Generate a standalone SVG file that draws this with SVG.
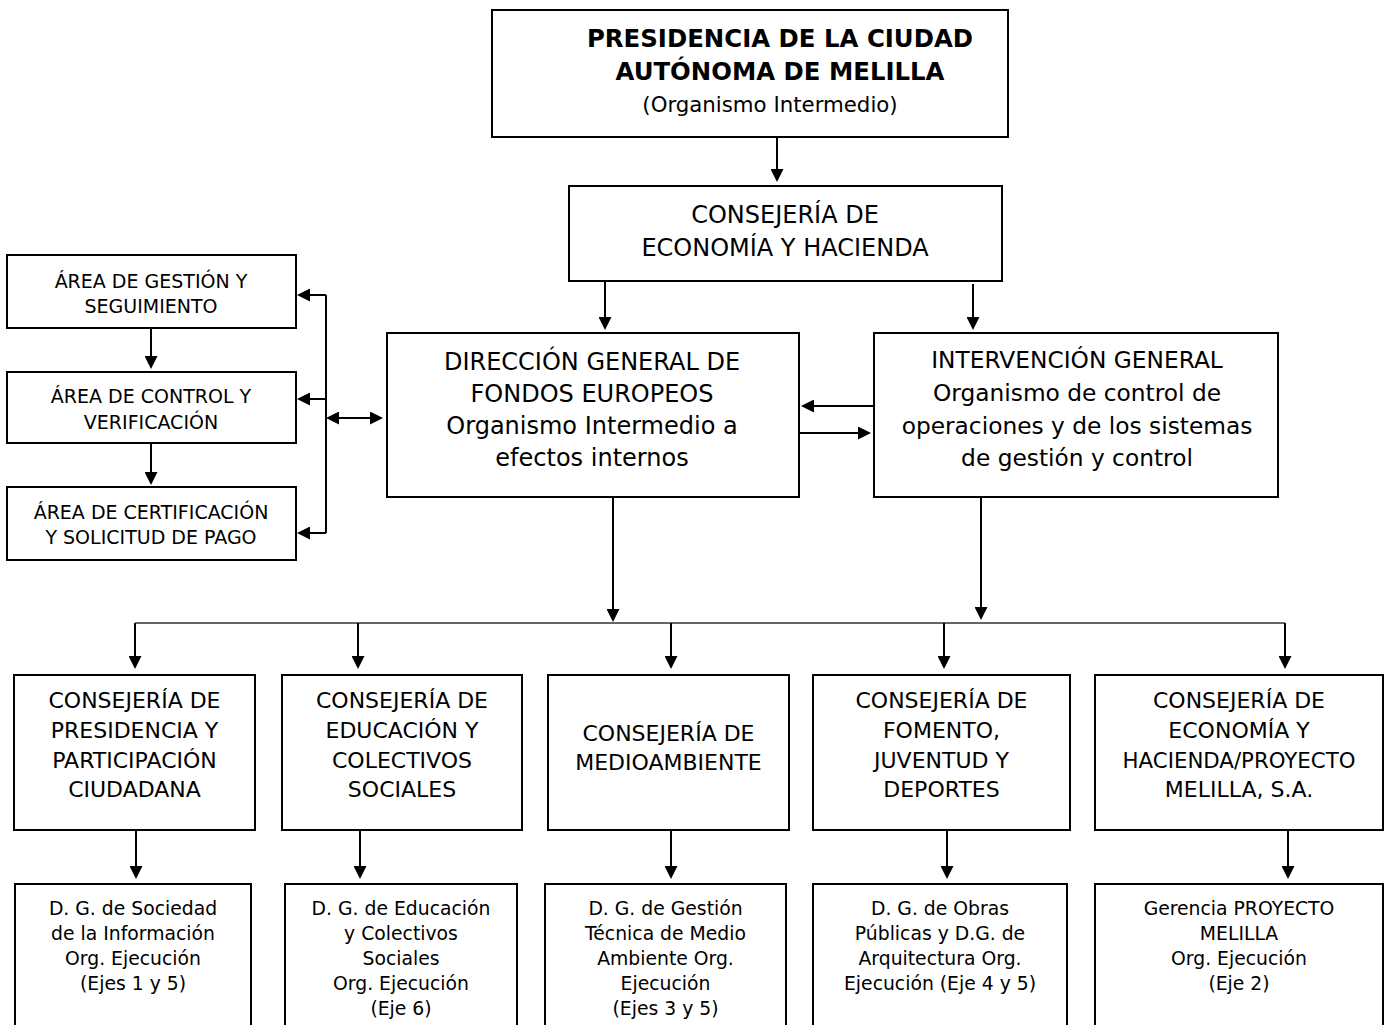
<svg xmlns="http://www.w3.org/2000/svg" width="1384" height="1025" viewBox="0 0 1384 1025">
<style>
.box{fill:#fff;stroke:#000;stroke-width:2}
.t{font-family:"DejaVu Sans",Verdana,sans-serif;fill:#000;text-anchor:middle}
.b{font-weight:bold;font-size:24.4px}
.r21{font-size:21.3px}
.r24{font-size:24px}
.r23{font-size:23.3px}
.r19{font-size:19px}
.r22{font-size:22px}
.r185{font-size:18.8px}
.c{fill:none;stroke:#000;stroke-width:2}
.bus{fill:none;stroke:#333;stroke-width:1.5}
</style>
<defs>
<marker id="ah" viewBox="0 0 13 13" refX="10" refY="6.5" markerWidth="13" markerHeight="13" markerUnits="userSpaceOnUse" orient="auto-start-reverse">
<path d="M0,0 L13,6.5 L0,13 z" fill="#000"/>
</marker>
</defs>

<g id="presidencia">
<rect class="box" x="492" y="10" width="516" height="127"/>
<text class="t b" x="780" y="47">PRESIDENCIA DE LA CIUDAD</text>
<text class="t b" x="780" y="80">AUTÓNOMA DE MELILLA</text>
<text class="t r21" x="770" y="112">(Organismo Intermedio)</text>
</g>

<g id="consejeria-economia">
<rect class="box" x="569" y="186" width="433" height="95"/>
<text class="t r24" x="785" y="223">CONSEJERÍA DE</text>
<text class="t r24" x="785" y="256">ECONOMÍA Y HACIENDA</text>
</g>

<g id="direccion-general">
<rect class="box" x="387" y="333" width="412" height="164"/>
<text class="t r24" x="592" y="370">DIRECCIÓN GENERAL DE</text>
<text class="t r24" x="592" y="402">FONDOS EUROPEOS</text>
<text class="t r24" x="592" y="434">Organismo Intermedio a</text>
<text class="t r24" x="592" y="466">efectos internos</text>
</g>

<g id="intervencion-general">
<rect class="box" x="874" y="333" width="404" height="164"/>
<text class="t r23" x="1077" y="368">INTERVENCIÓN GENERAL</text>
<text class="t r23" x="1077" y="401">Organismo de control de</text>
<text class="t r23" x="1077" y="434">operaciones y de los sistemas</text>
<text class="t r23" x="1077" y="466">de gestión y control</text>
</g>

<g id="area-gestion">
<rect class="box" x="7" y="255" width="289" height="73"/>
<text class="t r19" x="151" y="288">ÁREA DE GESTIÓN Y</text>
<text class="t r19" x="151" y="313">SEGUIMIENTO</text>
</g>

<g id="area-control">
<rect class="box" x="7" y="372" width="289" height="71"/>
<text class="t r19" x="151" y="403">ÁREA DE CONTROL Y</text>
<text class="t r19" x="151" y="429">VERIFICACIÓN</text>
</g>

<g id="area-certificacion">
<rect class="box" x="7" y="487" width="289" height="73"/>
<text class="t r19" x="151" y="519">ÁREA DE CERTIFICACIÓN</text>
<text class="t r19" x="151" y="544">Y SOLICITUD DE PAGO</text>
</g>

<g id="cons-presidencia">
<rect class="box" x="14" y="675" width="241" height="155"/>
<text class="t r22" x="134.5" y="708">CONSEJERÍA DE</text>
<text class="t r22" x="134.5" y="738">PRESIDENCIA Y</text>
<text class="t r22" x="134.5" y="768">PARTICIPACIÓN</text>
<text class="t r22" x="134.5" y="797">CIUDADANA</text>
</g>

<g id="cons-educacion">
<rect class="box" x="282" y="675" width="240" height="155"/>
<text class="t r22" x="402" y="708">CONSEJERÍA DE</text>
<text class="t r22" x="402" y="738">EDUCACIÓN Y</text>
<text class="t r22" x="402" y="768">COLECTIVOS</text>
<text class="t r22" x="402" y="797">SOCIALES</text>
</g>

<g id="cons-medioambiente">
<rect class="box" x="548" y="675" width="241" height="155"/>
<text class="t r22" x="668.5" y="741">CONSEJERÍA DE</text>
<text class="t r22" x="668.5" y="770">MEDIOAMBIENTE</text>
</g>

<g id="cons-fomento">
<rect class="box" x="813" y="675" width="257" height="155"/>
<text class="t r22" x="941.5" y="708">CONSEJERÍA DE</text>
<text class="t r22" x="941.5" y="738">FOMENTO,</text>
<text class="t r22" x="941.5" y="768">JUVENTUD Y</text>
<text class="t r22" x="941.5" y="797">DEPORTES</text>
</g>

<g id="cons-hacienda-proyecto">
<rect class="box" x="1095" y="675" width="288" height="155"/>
<text class="t r22" x="1239" y="708">CONSEJERÍA DE</text>
<text class="t r22" x="1239" y="738">ECONOMÍA Y</text>
<text class="t r21" x="1239" y="768">HACIENDA/PROYECTO</text>
<text class="t r22" x="1239" y="797">MELILLA, S.A.</text>
</g>

<g id="dg-sociedad">
<rect class="box" x="15" y="884" width="236" height="160"/>
<text class="t r185" x="133" y="915">D. G. de Sociedad</text>
<text class="t r185" x="133" y="940">de la Información</text>
<text class="t r185" x="133" y="965">Org. Ejecución</text>
<text class="t r185" x="133" y="990">(Ejes 1 y 5)</text>
</g>

<g id="dg-educacion">
<rect class="box" x="285" y="884" width="232" height="160"/>
<text class="t r185" x="401" y="915">D. G. de Educación</text>
<text class="t r185" x="401" y="940">y Colectivos</text>
<text class="t r185" x="401" y="965">Sociales</text>
<text class="t r185" x="401" y="990">Org. Ejecución</text>
<text class="t r185" x="401" y="1015">(Eje 6)</text>
</g>

<g id="dg-medio-ambiente">
<rect class="box" x="545" y="884" width="241" height="160"/>
<text class="t r185" x="665.5" y="915">D. G. de Gestión</text>
<text class="t r185" x="665.5" y="940">Técnica de Medio</text>
<text class="t r185" x="665.5" y="965">Ambiente Org.</text>
<text class="t r185" x="665.5" y="990">Ejecución</text>
<text class="t r185" x="665.5" y="1015">(Ejes 3 y 5)</text>
</g>

<g id="dg-obras">
<rect class="box" x="813" y="884" width="254" height="160"/>
<text class="t r185" x="940" y="915">D. G. de Obras</text>
<text class="t r185" x="940" y="940">Públicas y D.G. de</text>
<text class="t r185" x="940" y="965">Arquitectura Org.</text>
<text class="t r185" x="940" y="990">Ejecución (Eje 4 y 5)</text>
</g>

<g id="gerencia-proyecto">
<rect class="box" x="1095" y="884" width="288" height="160"/>
<text class="t r185" x="1239" y="915">Gerencia PROYECTO</text>
<text class="t r185" x="1239" y="940">MELILLA</text>
<text class="t r185" x="1239" y="965">Org. Ejecución</text>
<text class="t r185" x="1239" y="990">(Eje 2)</text>
</g>

<g id="connectors">
<line class="c" x1="777" y1="137" x2="777" y2="179" marker-end="url(#ah)"/>
<line class="c" x1="605" y1="281" x2="605" y2="327" marker-end="url(#ah)"/>
<line class="c" x1="973" y1="284" x2="973" y2="327" marker-end="url(#ah)"/>
<line class="c" x1="873" y1="406" x2="804" y2="406" marker-end="url(#ah)"/>
<line class="c" x1="799" y1="433" x2="868" y2="433" marker-end="url(#ah)"/>
<line class="c" x1="151" y1="328" x2="151" y2="366" marker-end="url(#ah)"/>
<line class="c" x1="151" y1="443" x2="151" y2="482" marker-end="url(#ah)"/>
<line class="c" x1="326" y1="295" x2="326" y2="533"/>
<line class="c" x1="326" y1="295" x2="300" y2="295" marker-end="url(#ah)"/>
<line class="c" x1="326" y1="399" x2="300" y2="399" marker-end="url(#ah)"/>
<line class="c" x1="326" y1="533" x2="300" y2="533" marker-end="url(#ah)"/>
<line class="c" x1="329" y1="418" x2="380" y2="418" marker-start="url(#ah)" marker-end="url(#ah)"/>
<line class="c" x1="613" y1="497" x2="613" y2="619" marker-end="url(#ah)"/>
<line class="c" x1="981" y1="497" x2="981" y2="617" marker-end="url(#ah)"/>
<line class="bus" x1="135" y1="623" x2="1285" y2="623"/>
<line class="c" x1="135" y1="623" x2="135" y2="666" marker-end="url(#ah)"/>
<line class="c" x1="358" y1="623" x2="358" y2="666" marker-end="url(#ah)"/>
<line class="c" x1="671" y1="623" x2="671" y2="666" marker-end="url(#ah)"/>
<line class="c" x1="944" y1="623" x2="944" y2="666" marker-end="url(#ah)"/>
<line class="c" x1="1285" y1="623" x2="1285" y2="666" marker-end="url(#ah)"/>
<line class="c" x1="136" y1="830" x2="136" y2="876" marker-end="url(#ah)"/>
<line class="c" x1="360" y1="830" x2="360" y2="876" marker-end="url(#ah)"/>
<line class="c" x1="671" y1="830" x2="671" y2="876" marker-end="url(#ah)"/>
<line class="c" x1="947" y1="830" x2="947" y2="876" marker-end="url(#ah)"/>
<line class="c" x1="1288" y1="830" x2="1288" y2="876" marker-end="url(#ah)"/>
</g>
</svg>
